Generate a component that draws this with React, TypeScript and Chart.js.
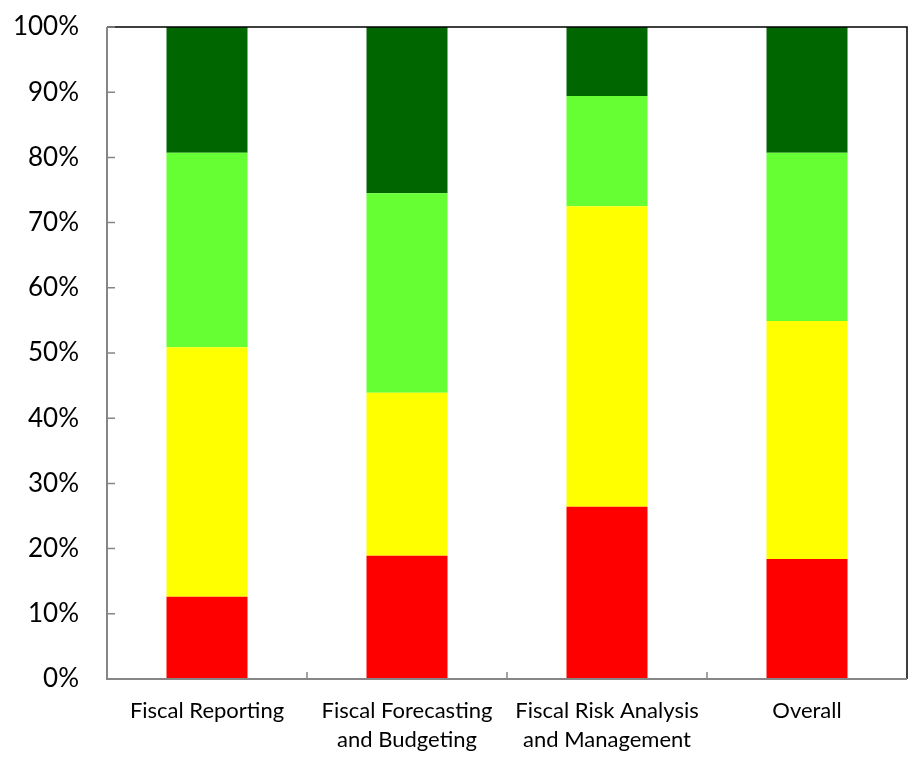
import React, { useEffect, useRef } from "react";
import { Chart, registerables } from "chart.js";

Chart.register(...registerables);

const categories: (string | string[])[] = [
  "Fiscal Reporting",
  ["Fiscal Forecasting", "and Budgeting"],
  ["Fiscal Risk Analysis", "and Management"],
  "Overall",
];
const redValues = [12.6, 18.9, 26.4, 18.4];
const yellowValues = [38.3, 25.0, 46.1, 36.5];
const greenValues = [29.8, 30.6, 16.9, 25.8];
const darkGreenValues = [19.3, 25.5, 10.6, 19.3];
const yTicks = [0, 10, 20, 30, 40, 50, 60, 70, 80, 90, 100];

const FONT = "Lato, 'Open Sans', sans-serif";

const framePlugin = {
  id: "frame",
  afterDatasetsDraw(chart: any) {
    const { ctx, chartArea } = chart;
    const { left, right, top, bottom } = chartArea;
    const y = chart.scales.y;
    const x = chart.scales.x;
    ctx.save();
    ctx.strokeStyle = "#000000";
    ctx.lineWidth = 1.5;
    ctx.beginPath();
    ctx.moveTo(left, top);
    ctx.lineTo(right, top);
    ctx.lineTo(right, bottom);
    ctx.stroke();
    ctx.strokeStyle = "#868686";
    ctx.lineWidth = 2;
    ctx.beginPath();
    ctx.moveTo(left, top);
    ctx.lineTo(left, bottom);
    ctx.lineTo(right, bottom);
    ctx.stroke();
    ctx.lineWidth = 1.5;
    ctx.beginPath();
    for (const v of yTicks) {
      const py = y.getPixelForValue(v);
      ctx.moveTo(left, py);
      ctx.lineTo(left + 8, py);
    }
    for (let i = 1; i < categories.length; i++) {
      const px = (x.getPixelForValue(i - 1) + x.getPixelForValue(i)) / 2;
      ctx.moveTo(px, bottom);
      ctx.lineTo(px, bottom - 7);
    }
    ctx.stroke();
    ctx.restore();
  },
};

export default function App() {
  const ref = useRef<HTMLCanvasElement | null>(null);
  useEffect(() => {
    if (!ref.current) return;
    const common = { categoryPercentage: 1, barPercentage: 0.405, borderWidth: 0 };
    const chart = new Chart(ref.current, {
      type: "bar",
      data: {
        labels: categories,
        datasets: [
          { label: "Red", data: redValues, backgroundColor: "#FF0000", ...common },
          { label: "Yellow", data: yellowValues, backgroundColor: "#FFFF00", ...common },
          { label: "Green", data: greenValues, backgroundColor: "#66FF33", ...common },
          { label: "Dark green", data: darkGreenValues, backgroundColor: "#006600", ...common },
        ],
      },
      options: {
        animation: false,
        responsive: true,
        maintainAspectRatio: false,
        layout: { padding: { top: 27, right: 7, left: 0, bottom: 0 } },
        plugins: { legend: { display: false }, tooltip: { enabled: false } },
        scales: {
          x: {
            stacked: true,
            grid: { display: false, drawTicks: false },
            border: { display: false },
            ticks: {
              color: "#000000",
              font: { family: FONT, size: 22, lineHeight: 1.32 },
              padding: 17,
              maxRotation: 0,
              autoSkip: false,
            },
            afterFit(scale: any) {
              scale.height = 78;
              scale.paddingLeft = 0;
              scale.paddingRight = 0;
            },
          },
          y: {
            stacked: true,
            min: 0,
            max: 100,
            grid: { display: false, drawTicks: false },
            border: { display: false },
            afterBuildTicks(scale: any) {
              scale.ticks = yTicks.map((v) => ({ value: v }));
            },
            ticks: {
              color: "#000000",
              font: { family: FONT, size: 26 },
              padding: 28,
              callback: (v: any) => `${v}%`,
            },
            afterFit(scale: any) {
              scale.width = 107;
              scale.paddingTop = 0;
              scale.paddingBottom = 0;
            },
          },
        },
      },
      plugins: [framePlugin],
    });
    return () => chart.destroy();
  }, []);
  return (
    <div style={{ position: "fixed", left: 0, top: 0, width: 914, height: 757, background: "#fff" }}>
      <canvas ref={ref} />
    </div>
  );
}
